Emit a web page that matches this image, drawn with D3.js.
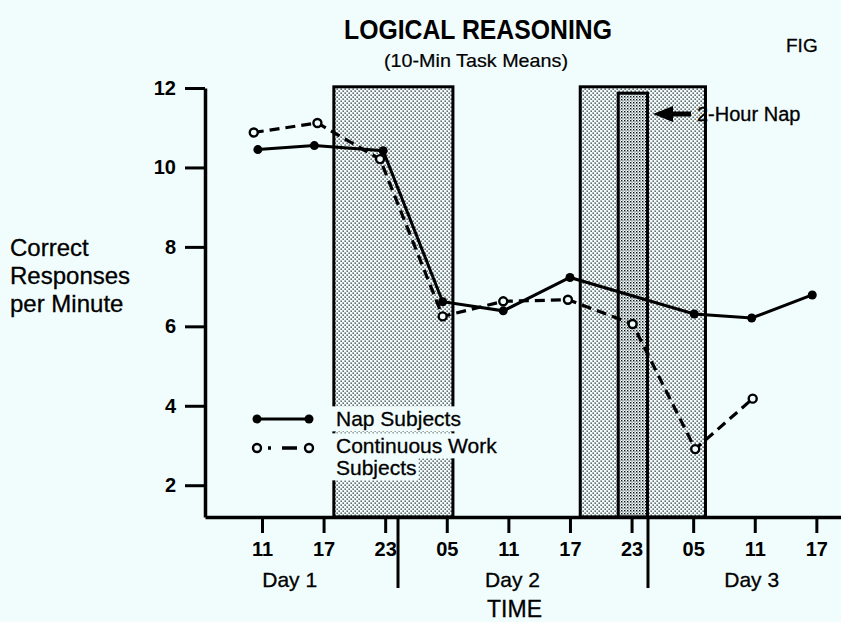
<!DOCTYPE html>
<html><head><meta charset="utf-8">
<script src="https://cdn.jsdelivr.net/npm/d3@7"></script>
<style>
html,body{margin:0;padding:0;background:#f1fdfd;}
svg{display:block;font-family:"Liberation Sans",Arial,Helvetica,sans-serif;}
</style></head><body>
<svg id="chart" width="841" height="622"></svg>
<script>
// ---- data (hours counted from 00:00 of Day 1) ----
const tickHours = [11, 17, 23, 29, 35, 41, 47, 53, 59, 65];
const tickLabels = ["11", "17", "23", "05", "11", "17", "23", "05", "11", "17"];
const yTicks = [2, 4, 6, 8, 10, 12];
const napHours = [10.6, 16.1, 22.8, 28.6, 34.5, 41.0, 53.1, 58.7, 64.6];
const napValues = [10.45, 10.55, 10.42, 6.62, 6.39, 7.23, 6.31, 6.21, 6.79];
const cwHours = [10.2, 16.4, 22.5, 28.6, 34.5, 40.8, 47.1, 53.2, 58.8];
const cwValues = [10.88, 11.12, 10.21, 6.25, 6.63, 6.67, 6.06, 2.91, 4.18];
const shadedPeriods = [[18.0, 29.6], [42.0, 54.2]];
const shadedTop = 12.03;
const napPeriod = [45.7, 48.55];
const napTop = 11.87;
const dayDividers = [24.25, 48.6];
const dayLabels = ["Day 1", "Day 2", "Day 3"];
const dayLabelHours = [13.7, 35.4, 58.7];
const seriesNames = ["Nap Subjects", "Continuous Work", "Subjects"];

const BG = "#f1fdfd";
const svg = d3.select("#chart");
const W = 841, H = 622;
svg.append("rect").attr("width", W).attr("height", H).attr("fill", BG);

const x = d3.scaleLinear().domain([5.45, 67.4]).range([205, 841]);
const y = d3.scaleLinear().domain([1.2, 12]).range([517, 88]);

// patterns
const defs = svg.append("defs");
const p1 = defs.append("pattern").attr("id", "stipple").attr("patternUnits", "userSpaceOnUse")
  .attr("width", 4).attr("height", 4);
p1.append("rect").attr("width", 4).attr("height", 4).attr("fill", BG);
p1.append("rect").attr("x", 0.5).attr("y", 0.5).attr("width", 1.3).attr("height", 1.3).attr("fill", "#222");
p1.append("rect").attr("x", 2.5).attr("y", 2.5).attr("width", 1.3).attr("height", 1.3).attr("fill", "#222");
const p2 = defs.append("pattern").attr("id", "stippleDark").attr("patternUnits", "userSpaceOnUse")
  .attr("width", 3).attr("height", 3);
p2.append("rect").attr("width", 3).attr("height", 3).attr("fill", BG);
p2.append("rect").attr("x", 0).attr("y", 0).attr("width", 1.4).attr("height", 1.4).attr("fill", "#111");
p2.append("rect").attr("x", 1.5).attr("y", 1.5).attr("width", 1.0).attr("height", 1.0).attr("fill", "#111");

// shaded periods
svg.selectAll("rect.shade").data(shadedPeriods).join("rect").attr("class", "shade")
  .attr("x", d => x(d[0])).attr("y", y(shadedTop))
  .attr("width", d => x(d[1]) - x(d[0])).attr("height", y(1.2) - y(shadedTop))
  .attr("fill", "url(#stipple)").attr("stroke", "#000").attr("stroke-width", 3);
svg.append("rect")
  .attr("x", x(napPeriod[0])).attr("y", y(napTop))
  .attr("width", x(napPeriod[1]) - x(napPeriod[0])).attr("height", y(1.2) - y(napTop))
  .attr("fill", "url(#stippleDark)").attr("stroke", "#000").attr("stroke-width", 3);

// legend background + legend text
const legendG = svg.append("g");
const legendTextX = 336;
const legendRows = [419, 446, 468];
const lt = legendG.selectAll("text").data(seriesNames).join("text")
  .attr("x", legendTextX).attr("y", (d, i) => legendRows[i])
  .attr("dy", "0.35em").attr("font-size", 21).attr("fill", "#000")
  .attr("stroke", "#000").attr("stroke-width", 0.3).text(d => d);
lt.each(function () {
  const b = this.getBBox();
  legendG.insert("rect", "text").attr("x", b.x - 4).attr("y", b.y - 1)
    .attr("width", b.width + 6).attr("height", b.height + 2).attr("fill", BG);
});

// axes
const yAxis = d3.axisLeft(y).tickValues(yTicks).tickSize(20).tickPadding(9).tickSizeOuter(0);
const gy = svg.append("g").attr("transform", "translate(205,0)").call(yAxis);
gy.selectAll("text").attr("font-size", 20).attr("font-weight", "bold").attr("fill", "#000")
  .attr("font-family", "Liberation Sans, Arial, sans-serif");
gy.selectAll("line").attr("stroke", "#000").attr("stroke-width", 3);
gy.select(".domain").attr("stroke", "#000").attr("stroke-width", 3.5);

const xAxis = d3.axisBottom(x).tickValues(tickHours).tickFormat((d, i) => tickLabels[i])
  .tickSize(16).tickPadding(9).tickSizeOuter(0);
const gx = svg.append("g").attr("transform", "translate(0,517)").call(xAxis);
gx.selectAll("text").attr("font-size", 20).attr("font-weight", "bold").attr("fill", "#000")
  .attr("font-family", "Liberation Sans, Arial, sans-serif");
gx.selectAll("line").attr("stroke", "#000").attr("stroke-width", 3);
gx.select(".domain").attr("stroke", "#000").attr("stroke-width", 3.5);

// day dividers and labels
svg.selectAll("line.div").data(dayDividers).join("line").attr("class", "div")
  .attr("x1", d => x(d)).attr("x2", d => x(d)).attr("y1", 517).attr("y2", 588)
  .attr("stroke", "#000").attr("stroke-width", 3);
svg.selectAll("text.day").data(dayLabels).join("text").attr("class", "day")
  .attr("x", (d, i) => x(dayLabelHours[i])).attr("y", 580).attr("dy", "0.35em")
  .attr("text-anchor", "middle").attr("font-size", 21)
  .attr("stroke", "#000").attr("stroke-width", 0.3).text(d => d);
svg.append("text").attr("x", x(35.6)).attr("y", 609).attr("dy", "0.35em")
  .attr("text-anchor", "middle").attr("font-size", 23)
  .attr("stroke", "#000").attr("stroke-width", 0.3).text("TIME");

// y title
svg.append("text").attr("font-size", 24).attr("stroke", "#000").attr("stroke-width", 0.3)
  .selectAll("tspan")
  .data(["Correct", "Responses", "per Minute"]).join("tspan")
  .attr("x", 10).attr("y", (d, i) => 256 + i * 28).text(d => d);

// title
svg.append("text").attr("x", 478).attr("y", 39).attr("text-anchor", "middle")
  .attr("font-size", 28).attr("font-weight", "bold")
  .attr("textLength", 268).attr("lengthAdjust", "spacingAndGlyphs").text("LOGICAL REASONING");
svg.append("text").attr("x", 476).attr("y", 67).attr("text-anchor", "middle")
  .attr("font-size", 19).attr("stroke", "#000").attr("stroke-width", 0.2)
  .attr("textLength", 184).attr("lengthAdjust", "spacingAndGlyphs").text("(10-Min Task Means)");
svg.append("text").attr("x", 786).attr("y", 52).attr("font-size", 19)
  .attr("stroke", "#000").attr("stroke-width", 0.3).text("FIG");

// data lines
const napData = napHours.map((h, i) => [h, napValues[i]]);
const cwData = cwHours.map((h, i) => [h, cwValues[i]]);
const line = d3.line().x(d => x(d[0])).y(d => y(d[1]));
svg.append("path").datum(cwData).attr("d", line).attr("fill", "none")
  .attr("stroke", "#000").attr("stroke-width", 3.2).attr("stroke-dasharray", "10,6");
svg.append("path").datum(napData).attr("d", line).attr("fill", "none")
  .attr("stroke", "#000").attr("stroke-width", 3);
svg.selectAll("circle.nap").data(napData).join("circle").attr("class", "nap")
  .attr("cx", d => x(d[0])).attr("cy", d => y(d[1])).attr("r", 4.5).attr("fill", "#000");
svg.selectAll("circle.cw").data(cwData).join("circle").attr("class", "cw")
  .attr("cx", d => x(d[0])).attr("cy", d => y(d[1])).attr("r", 4).attr("fill", BG)
  .attr("stroke", "#000").attr("stroke-width", 2.4);

// legend markers
legendG.append("line").attr("x1", 257).attr("x2", 309).attr("y1", 419).attr("y2", 419)
  .attr("stroke", "#000").attr("stroke-width", 3);
legendG.selectAll("circle.ln").data([257, 309]).join("circle").attr("class", "ln")
  .attr("cx", d => d).attr("cy", 419).attr("r", 4.5).attr("fill", "#000");
legendG.append("line").attr("x1", 257).attr("x2", 309).attr("y1", 448).attr("y2", 448)
  .attr("stroke", "#000").attr("stroke-width", 3.4).attr("stroke-dasharray", "0 11 3 11 15 30");
legendG.selectAll("circle.lc").data([257, 309]).join("circle").attr("class", "lc")
  .attr("cx", d => d).attr("cy", 448).attr("r", 4).attr("fill", BG)
  .attr("stroke", "#000").attr("stroke-width", 2.4);

// nap annotation
svg.append("path").attr("d", "M653,114 L673,106 L673,122 Z").attr("fill", "#000");
svg.append("line").attr("x1", 670).attr("x2", 691).attr("y1", 114).attr("y2", 114)
  .attr("stroke", "#000").attr("stroke-width", 5);
svg.append("text").attr("x", 697).attr("y", 114).attr("dy", "0.35em")
  .attr("font-size", 20).attr("stroke", "#000").attr("stroke-width", 0.3).text("2-Hour Nap");
</script>
</body></html>
